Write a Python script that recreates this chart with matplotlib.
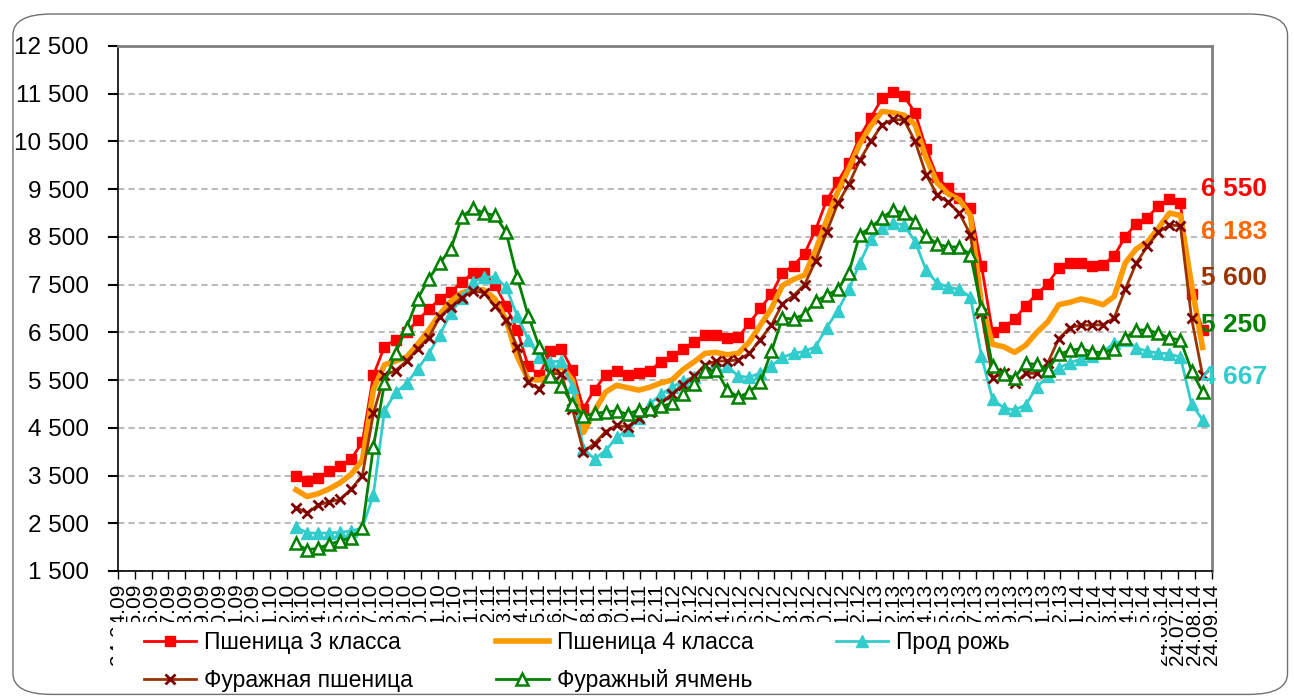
import matplotlib
matplotlib.use("Agg")
import matplotlib.pyplot as plt
from matplotlib.patches import FancyBboxPatch, Rectangle
from matplotlib.ticker import FuncFormatter
import pandas as pd

plt.rcParams['font.family'] = ['Liberation Sans', 'DejaVu Sans']

# prices, rub/t, read every ~20 days from the picture
wheat3 = [3500, 3380, 3450, 3600, 3700, 3850, 4200, 5600, 6200, 6350,
          6500, 6750, 6980, 7200, 7350, 7550, 7750, 7750, 7500, 7050,
          6550, 5800, 5600, 6100, 6150, 5710, 4900, 5300, 5600, 5700,
          5600, 5640, 5700, 5880, 6000, 6150, 6300, 6450, 6450, 6380,
          6400, 6690, 7000, 7300, 7750, 7900, 8150, 8650, 9270, 9650,
          10050, 10600, 11000, 11400, 11530, 11450, 11100, 10350, 9750, 9520,
          9320, 9100, 7900, 6500, 6610, 6770, 7060, 7300, 7520, 7850,
          7950, 7950, 7900, 7920, 8100, 8500, 8780, 8900, 9150, 9300,
          9200, 7300, 6550]
wheat4 = [3200, 3060, 3120, 3220, 3350, 3530, 3820, 5300, 5820, 5900,
          5980, 6250, 6550, 6880, 7150, 7330, 7390, 7390, 7200, 6760,
          6000, 5520, 5500, 5580, 5800, 5500, 4400, 4850, 5250, 5390,
          5340, 5290, 5350, 5440, 5500, 5720, 5880, 6060, 6080, 6030,
          6060, 6300, 6650, 7000, 7480, 7610, 7700, 8220, 8850, 9450,
          9930, 10450, 10830, 11130, 11100, 11050, 10850, 10150, 9630, 9400,
          9280, 8950, 7100, 6250, 6200, 6080, 6230, 6500, 6720, 7080,
          7130, 7200, 7150, 7080, 7250, 7950, 8250, 8390, 8680, 9000,
          8950, 7500, 6183]
rye = [2420, 2300, 2290, 2300, 2310, 2340, 2400, 3100, 4850, 5240,
       5430, 5730, 6050, 6450, 6900, 7230, 7550, 7660, 7660, 7450,
       6850, 6350, 5980, 5880, 5900, 5350, 4050, 3850, 4020, 4300,
       4450, 4700, 5000, 5200, 5350, 5480, 5570, 5700, 5800, 5800,
       5580, 5560, 5650, 5800, 5980, 6060, 6100, 6200, 6600, 6950,
       7400, 7950, 8450, 8680, 8790, 8750, 8400, 7800, 7530, 7450,
       7400, 7240, 6000, 5100, 4920, 4870, 4980, 5350, 5580, 5760,
       5860, 5940, 6010, 6100, 6270, 6330, 6180, 6100, 6070, 6050,
       5980, 5000, 4667]
feed_wheat = [2830, 2720, 2880, 2950, 3000, 3220, 3500, 4800, 5600, 5700,
              5900, 6150, 6390, 6820, 7040, 7230, 7370, 7330, 7050, 6760,
              6200, 5450, 5320, 5650, 5620, 4900, 4000, 4170, 4420, 4550,
              4520, 4700, 4830, 5020, 5210, 5400, 5580, 5820, 5900, 5900,
              5920, 6060, 6350, 6650, 7100, 7270, 7500, 8000, 8600, 9200,
              9600, 10110, 10500, 10850, 10960, 10950, 10500, 9800, 9380, 9230,
              9000, 8550, 6900, 5550, 5640, 5430, 5640, 5640, 5860, 6370,
              6600, 6650, 6650, 6660, 6800, 7400, 7950, 8300, 8600, 8750,
              8730, 6800, 5600]
feed_barley = [2080, 1940, 1980, 2060, 2130, 2200, 2400, 4100, 5430, 6060,
               6600, 7200, 7620, 7950, 8250, 8920, 9100, 9000, 8950, 8600,
               7660, 6850, 6200, 5580, 5380, 5000, 4750, 4800, 4830, 4860,
               4780, 4880, 4890, 4950, 5010, 5200, 5420, 5680, 5710, 5300,
               5140, 5250, 5450, 6100, 6800, 6780, 6880, 7150, 7280, 7400,
               7750, 8550, 8700, 8900, 9060, 9000, 8820, 8520, 8350, 8290,
               8290, 8130, 7000, 5800, 5620, 5550, 5850, 5830, 5720, 6040,
               6120, 6160, 6090, 6080, 6150, 6380, 6550, 6550, 6480, 6380,
               6340, 5700, 5250]

dates = pd.date_range('2010-03-12', periods=len(wheat3), freq='20D')
tick_dates = pd.date_range('2009-04-24', '2014-09-24', freq=pd.DateOffset(months=1))

last_labels = ['6 550', '6 183', '5 600', '5 250', '4 667']
last_colors = ['#FF0000', '#FF6600', '#993300', '#008000', '#33CCCC']
last_label_y = [9500, 8600, 7640, 6650, 5560]

fig = plt.figure(figsize=(12.94, 7.0), dpi=100)
ax = fig.add_axes([0.0912, 0.1843, 0.8454, 0.75])

l1, = ax.plot(dates, wheat3, color='#FF0000', lw=2, marker='s', ms=7.5,
              label='Пшеница 3 класса')
l2, = ax.plot(dates, wheat4, color='#FF9900', lw=4, label='Пшеница 4 класса')
l3, = ax.plot(dates, rye, color='#33CCCC', lw=2, marker='^', ms=9,
              label='Прод рожь')
l4, = ax.plot(dates, feed_wheat, color='#993300', lw=2, marker='x', ms=6.5,
              mew=2, mec='#800000', label='Фуражная пшеница')
l5, = ax.plot(dates, feed_barley, color='#008000', lw=2, marker='^', ms=8.5,
              mfc='white', mew=1.8, label='Фуражный ячмень')

ax.set_ylim(1500, 12500)
ax.set_yticks(range(1500, 12501, 1000))
ax.yaxis.set_major_formatter(FuncFormatter(lambda v, p: f'{int(v):,}'.replace(',', ' ')))
ax.grid(axis='y', color='#BBBBBB', linestyle=(0, (3, 2)), lw=1.5)
ax.set_axisbelow(True)

ax.set_xlim(tick_dates[0], tick_dates[-1])
ax.set_xticks(tick_dates)
ax.set_xticklabels([d.strftime('%d.%m.%y') for d in tick_dates], rotation=90, fontsize=15)
ax.tick_params(axis='y', labelsize=17.5, length=7, width=1.5, direction='out', pad=14)
ax.tick_params(axis='x', length=6, width=1, direction='out', pad=3)

for s in ['left', 'bottom']:
    ax.spines[s].set_color('black')
    ax.spines[s].set_linewidth(1.2)
for s in ['top', 'right']:
    ax.spines[s].set_color('#808080')
    ax.spines[s].set_linewidth(2)

for txt, c, y in zip(last_labels, last_colors, last_label_y):
    ax.text(0.99, y, txt, color=c, fontsize=19, fontweight='bold', ha='left', va='center',
            transform=ax.get_yaxis_transform(), clip_on=False, zorder=10)

# white band under the legend hides most of the date labels, as in the original
fig.patches.append(Rectangle((0.087, 0.0), 0.81, 0.112, transform=fig.transFigure,
                             fc='white', ec='none', zorder=1))

leg = fig.legend([l1, l4, l2, l5, l3],
                 ['Пшеница 3 класса', 'Фуражная пшеница', 'Пшеница 4 класса',
                  'Фуражный ячмень', 'Прод рожь'],
                 ncol=3, loc='upper left', bbox_to_anchor=(0.104, 0.112),
                 fontsize=16.5, frameon=False, handlelength=2.3,
                 handletextpad=0.35, borderaxespad=0, labelspacing=0.65,
                 columnspacing=3.6)

fig.patches.append(FancyBboxPatch((0.01, 0.008), 0.985, 0.972, boxstyle='round,pad=0,rounding_size=0.03',
                                  transform=fig.transFigure, fill=False, ec='#707070', lw=1))

fig.savefig('out.png', dpi=100)
